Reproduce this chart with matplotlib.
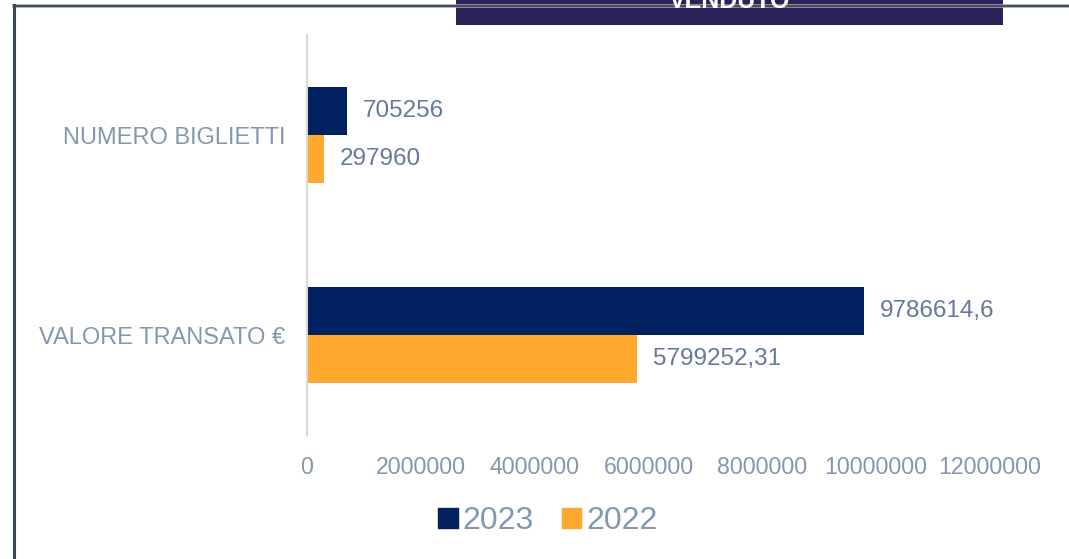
import matplotlib
matplotlib.use("Agg")
import matplotlib.pyplot as plt
from matplotlib.patches import Rectangle, Patch
from matplotlib.lines import Line2D

plt.rcParams['font.family'] = ['Liberation Sans', 'DejaVu Sans']

# data
categories = ['NUMERO BIGLIETTI', 'VALORE TRANSATO €']
values_2023 = [705256, 9786614.6]
values_2022 = [297960, 5799252.31]
labels_2023 = ['705256', '9786614,6']
labels_2022 = ['297960', '5799252,31']
series_names = ['2023', '2022']
ticks = [0, 2000000, 4000000, 6000000, 8000000, 10000000, 12000000]
title = 'VENDUTO'

navy = '#002060'
orange = '#ffa92f'
tick_col = '#8497b0'
label_col = '#65799a'

fig = plt.figure(figsize=(10.69, 5.59), dpi=100)

# frame lines (top + left)
fig.add_artist(Line2D([14 / 1069, 1.0], [1 - 5.5 / 559] * 2, color='#9aa3ad',
                      lw=2.6, transform=fig.transFigure))
fig.add_artist(Line2D([14 / 1069, 1.0], [1 - 6 / 559] * 2, color='#3b4757',
                      lw=1.3, transform=fig.transFigure))
fig.add_artist(Line2D([14 / 1069] * 2, [0, 1 - 5 / 559], color='#3b4757',
                      lw=2.2, transform=fig.transFigure))

# title box, cut off at the top
fig.add_artist(Rectangle((456 / 1069, 1 - 25 / 559), 547 / 1069, 25 / 559,
                         facecolor='#2e2157', edgecolor='none',
                         transform=fig.transFigure))
fig.text(730 / 1069, 1 - 8 / 559, title, color='white', fontsize=18,
         fontweight='bold', ha='center', va='baseline')

ax = fig.add_axes([307 / 1069, 1 - 435 / 559, (990 - 307) / 1069, 400 / 559])

h = 0.24
ypos = list(range(len(categories)))
ax.barh([y - h / 2 for y in ypos], values_2023, height=h, color=navy, label=series_names[0])
ax.barh([y + h / 2 for y in ypos], values_2022, height=h, color=orange, label=series_names[1])

for y, v, t in zip(ypos, values_2023, labels_2023):
    ax.annotate(t, (v, y - h / 2), xytext=(11.5, 0), textcoords='offset points',
                va='center', ha='left', fontsize=17.5, color=label_col)
for y, v, t in zip(ypos, values_2022, labels_2022):
    ax.annotate(t, (v, y + h / 2), xytext=(11.5, 0), textcoords='offset points',
                va='center', ha='left', fontsize=17.5, color=label_col)

ax.set_xlim(0, 12000000)
ax.set_ylim(1.5, -0.5)
ax.set_xticks(ticks)
ax.set_xticklabels([str(t) for t in ticks], fontsize=16.7, color=tick_col)
ax.set_yticks(ypos)
ax.set_yticklabels(categories, fontsize=17, color=tick_col)
ax.tick_params(length=0, axis='x', pad=15)
ax.tick_params(length=0, axis='y', pad=15.5)

for s in ['top', 'right', 'bottom']:
    ax.spines[s].set_visible(False)
ax.spines['left'].set_color('#d9d9d9')
ax.spines['left'].set_linewidth(1.5)

handles = [Patch(color=navy), Patch(color=orange)]
fig.legend(handles, series_names, loc='center', bbox_to_anchor=(548 / 1069, 1 - 521 / 559),
           ncol=2, frameon=False, fontsize=23, labelcolor=tick_col,
           handlelength=0.6, handleheight=0.6, handletextpad=0.15, columnspacing=0.9)

fig.savefig('out.png', dpi=100)
